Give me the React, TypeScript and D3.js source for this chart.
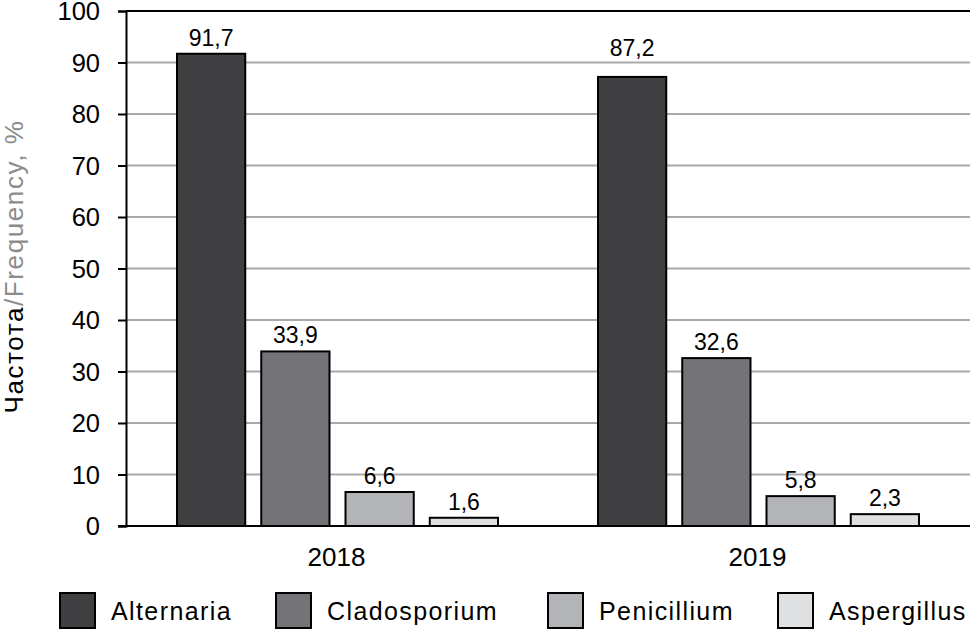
import React, { useRef, useEffect } from "react";
import * as d3 from "d3";

const width = 970;
const height = 630;
const margin = { top: 11, right: 2, bottom: 104, left: 126 };

const years = ["2018", "2019"];
const genera = ["Alternaria", "Cladosporium", "Penicillium", "Aspergillus"];
const alternaria = [91.7, 87.2];
const cladosporium = [33.9, 32.6];
const penicillium = [6.6, 5.8];
const aspergillus = [1.6, 2.3];
const yTicks = [0, 10, 20, 30, 40, 50, 60, 70, 80, 90, 100];

const seriesValues = [alternaria, cladosporium, penicillium, aspergillus];
const colors = ["#404042", "#747478", "#b3b4b8", "#dfe0e2"];
const font = "'Liberation Sans', Arial, Helvetica, sans-serif";

export default function App() {
  const ref = useRef<SVGSVGElement | null>(null);

  useEffect(() => {
    const svg = d3.select(ref.current);
    svg.selectAll("*").remove();

    const x0 = d3
      .scaleBand<string>()
      .domain(years)
      .range([margin.left, width - margin.right]);

    const x1 = d3
      .scaleBand<string>()
      .domain(genera)
      .range([51, 372])
      .paddingInner(0.19)
      .paddingOuter(0);

    const y = d3
      .scaleLinear()
      .domain([0, 100])
      .range([height - margin.bottom, margin.top]);

    // gridlines
    svg
      .append("g")
      .selectAll("line")
      .data(yTicks.filter((t) => t > 0 && t < 100))
      .enter()
      .append("line")
      .attr("x1", margin.left)
      .attr("x2", width)
      .attr("y1", (d) => y(d))
      .attr("y2", (d) => y(d))
      .attr("stroke", "#a9a9a9")
      .attr("stroke-width", 2);

    // top border at 100
    svg
      .append("line")
      .attr("x1", margin.left)
      .attr("x2", width)
      .attr("y1", y(100))
      .attr("y2", y(100))
      .attr("stroke", "#000")
      .attr("stroke-width", 2);

    // y axis
    const yAxis = svg
      .append("g")
      .attr("transform", `translate(${margin.left},0)`)
      .call(
        d3
          .axisLeft(y)
          .tickValues(yTicks)
          .tickSize(8)
          .tickPadding(18)
          .tickFormat((d) => String(d))
      );
    yAxis.select(".domain").attr("stroke", "#000").attr("stroke-width", 2);
    yAxis.selectAll(".tick line").attr("stroke", "#000").attr("stroke-width", 2);
    yAxis
      .selectAll(".tick text")
      .attr("font-family", font)
      .attr("font-size", 25.5)
      .attr("dy", "0.34em")
      .attr("fill", "#000");

    // bars
    const groups = svg
      .append("g")
      .selectAll("g")
      .data(years)
      .enter()
      .append("g")
      .attr("transform", (d) => `translate(${x0(d)},0)`);

    const cells = (_: string, yi: number) =>
      genera.map((g, gi) => ({ g, gi, yi, v: seriesValues[gi][yi] }));

    groups
      .selectAll("rect")
      .data(cells)
      .enter()
      .append("rect")
      .attr("x", (d) => x1(d.g)!)
      .attr("width", x1.bandwidth())
      .attr("y", (d) => y(d.v))
      .attr("height", (d) => y(0) - y(d.v))
      .attr("fill", (d) => colors[d.gi])
      .attr("stroke", "#000")
      .attr("stroke-width", 2);

    // the 2019 Alternaria label sits above the 90 gridline in the original
    groups
      .selectAll("text")
      .data(cells)
      .enter()
      .append("text")
      .attr("x", (d) => x1(d.g)! + x1.bandwidth() / 2)
      .attr("y", (d) => (d.gi === 0 && d.yi === 1 ? y(90) - 7 : y(d.v) - 8))
      .attr("text-anchor", "middle")
      .attr("font-family", font)
      .attr("font-size", 23)
      .attr("fill", "#000")
      .text((d) => String(d.v).replace(".", ","));

    // x axis baseline
    svg
      .append("line")
      .attr("x1", margin.left - 8)
      .attr("x2", width)
      .attr("y1", y(0))
      .attr("y2", y(0))
      .attr("stroke", "#000")
      .attr("stroke-width", 2);

    svg
      .append("g")
      .selectAll("text")
      .data(years)
      .enter()
      .append("text")
      .attr("x", (d) => x0(d)! + x0.bandwidth() / 2)
      .attr("y", 566)
      .attr("text-anchor", "middle")
      .attr("font-family", font)
      .attr("font-size", 26)
      .attr("fill", "#000")
      .text((d) => d);

    // y axis title
    const title = svg
      .append("text")
      .attr("transform", `translate(23,${(y(0) + y(100)) / 2 - 2}) rotate(-90)`)
      .attr("text-anchor", "middle")
      .attr("font-family", font)
      .attr("font-size", 26)
      .attr("letter-spacing", 1.6);
    title.append("tspan").attr("fill", "#000").text("Частота");
    title.append("tspan").attr("fill", "#8c8c8c").text("/Frequency, %");

    // legend
    const legendX = [60, 276, 548, 778];
    const legend = svg
      .append("g")
      .selectAll("g")
      .data(genera)
      .enter()
      .append("g")
      .attr("transform", (_, i) => `translate(${legendX[i]},593)`);

    legend
      .append("rect")
      .attr("width", 35)
      .attr("height", 35)
      .attr("fill", (_, i) => colors[i])
      .attr("stroke", "#000")
      .attr("stroke-width", 2);

    legend
      .append("text")
      .attr("x", 51)
      .attr("y", 27)
      .attr("font-family", font)
      .attr("font-size", 25)
      .attr("letter-spacing", 1.4)
      .attr("fill", "#000")
      .text((d) => d);
  }, []);

  return (
    <div style={{ position: "absolute", left: 0, top: 0 }}>
      <svg ref={ref} width={width} height={height} style={{ display: "block", background: "#fff" }} />
    </div>
  );
}
